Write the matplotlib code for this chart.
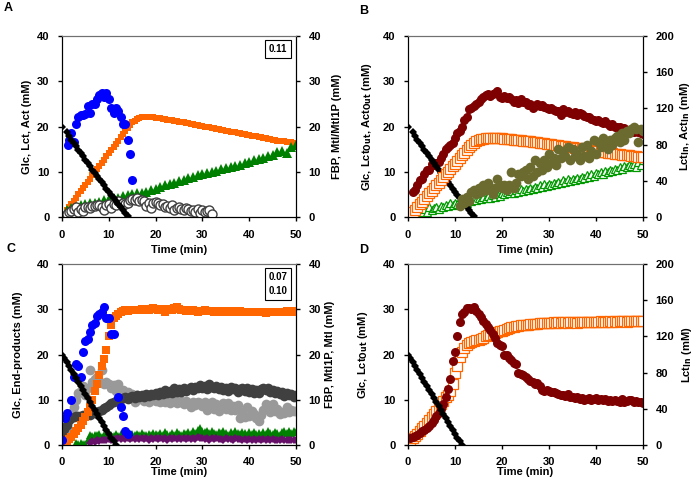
import numpy as np
import matplotlib
matplotlib.use("Agg")
import matplotlib.pyplot as plt

plt.rcParams["font.family"] = ["Liberation Sans", "DejaVu Sans"]
plt.rcParams["font.weight"] = "bold"
plt.rcParams["font.size"] = 8

# ---------------- panel A ----------------
# glucose (mM), t = 0 then every 0.5 min from 1
glc_a_t = [0.0] + list(np.arange(1.0, 14.01, 0.5))
glc_a = [20.0, 18.7, 17.9, 17.1, 16.4, 15.6, 14.9, 14.2, 13.4, 12.7, 11.9, 11.2,
         10.5, 9.8, 9.1, 8.4, 7.7, 7.0, 6.3, 5.6, 4.9, 4.3, 3.6, 2.9, 2.2, 1.5, 0.8, 0.2]
fbp_a_t = [1.2, 1.5, 2.0, 2.5, 3.0, 3.5, 4.0, 4.5, 5.0, 5.5, 6.0, 6.5, 7.0, 7.5, 8.0,
           8.5, 9.0, 9.5, 10.0, 10.5, 11.0, 11.5, 12.0, 12.5, 13.0, 13.5, 14.0, 14.5, 15.0]
fbp_a = [16.0, 17.0, 18.5, 16.5, 20.5, 22.0, 22.5, 22.5, 22.8, 24.5, 23.0, 25.0, 25.0,
         26.0, 27.0, 27.5, 26.5, 27.5, 26.0, 24.0, 23.0, 24.0, 23.5, 22.0, 20.5, 20.5,
         17.0, 14.0, 8.2]
lct_a = [1.5, 2.2, 2.9, 3.6, 4.3, 5.0, 5.7, 6.4, 7.1, 7.8, 8.5, 9.2, 9.9, 10.6, 11.3,
         12.0, 12.7, 13.4, 14.1, 14.8, 15.5, 16.2, 16.9, 17.6, 18.3, 19.0, 19.7, 20.4,
         20.9, 21.3, 21.6, 21.8, 22.0, 22.1, 22.1, 22.1, 22.0, 22.0, 21.9, 21.8, 21.8,
         21.7, 21.6, 21.5, 21.5, 21.4, 21.3, 21.2, 21.1, 21.0, 20.9, 20.8, 20.7, 20.6,
         20.5, 20.4, 20.3, 20.2, 20.1, 20.0, 19.9, 19.8, 19.7, 19.6, 19.5, 19.4, 19.3,
         19.2, 19.1, 19.0, 18.9, 18.8, 18.7, 18.6, 18.5, 18.4, 18.3, 18.2, 18.1, 18.0,
         17.9, 17.8, 17.7, 17.6, 17.5, 17.4, 17.3, 17.2, 17.1, 17.0, 16.9, 16.8, 16.7,
         16.7, 16.6, 16.5, 16.5, 16.4, 16.4]
act_a = [1.5, 2.0, 2.3, 2.6, 2.8, 3.0, 3.2, 3.4, 3.7, 3.9, 4.1, 4.3, 4.6, 4.8, 5.0,
         5.2, 5.4, 5.6, 5.9, 6.2, 6.6, 7.0, 7.2, 7.5, 7.9, 8.2, 8.6, 8.9, 9.3, 9.5,
         9.8, 9.9, 10.2, 10.6, 10.9, 11.0, 11.3, 11.5, 11.9, 12.2, 12.5, 12.8, 13.1,
         13.4, 13.7, 14.3, 14.6, 14.2, 15.5, 16.0]
mtl_a = [0.6, 1.0, 1.3, 1.8, 2.3, 1.2, 1.8, 1.4, 2.2, 2.3, 2.0, 2.5, 2.4, 2.6, 2.6,
         2.3, 1.6, 2.6, 2.8, 2.0, 2.9, 2.6, 3.5, 2.8, 3.0, 2.9, 3.2, 3.8, 4.0, 3.8,
         4.1, 3.6, 3.8, 3.5, 2.5, 3.2, 1.9, 3.0, 3.3, 3.0, 2.6, 2.9, 2.3, 2.5, 2.1,
         2.6, 1.6, 2.1, 2.3, 1.7, 1.5, 2.0, 1.8, 1.4, 1.6, 1.2, 1.7, 0.9, 1.5, 1.1,
         1.4, 1.6, 0.6]

# ---------------- panel B ----------------
glc_b = glc_a
lct_out_b = [5.5, 6.0, 7.0, 8.2, 8.5, 9.5, 10.3, 10.5, 11.8, 11.5, 12.0, 12.2, 13.0,
             14.0, 15.0, 15.5, 16.0, 16.4, 17.5, 18.5, 19.0, 20.0, 21.5, 22.0, 23.8,
             24.0, 24.5, 25.0, 25.5, 26.0, 26.5, 27.0, 27.2, 26.8, 27.3, 27.5, 27.8,
             26.5, 26.2, 26.8, 26.3, 26.5, 26.0, 25.5, 25.8, 25.2, 26.0, 25.4, 25.5,
             24.8, 25.0, 24.0, 24.6, 25.0, 24.5, 24.8, 24.3, 24.2, 23.8, 24.0, 23.7,
             23.4, 23.5, 22.5, 23.8, 23.3, 23.5, 23.0, 22.8, 23.2, 22.6, 23.0, 22.8,
             22.3, 22.0, 22.2, 21.7, 21.5, 21.2, 21.4, 21.0, 20.8, 21.3, 20.5, 20.2,
             20.5, 20.0, 19.8, 20.0, 19.5, 19.6, 19.2, 19.0, 19.3, 18.8, 19.0, 18.7,
             18.5, 18.3]
lct_in_b = [2.5, 5, 8, 11, 14, 17, 20, 23, 26, 29, 32, 35, 38, 41, 44, 47, 50, 53, 56,
            59, 62, 65, 68, 71, 74, 77, 79.5, 82, 84, 85, 86, 86.5, 87, 87.5, 87.5, 87.5,
            87.3, 87, 87, 86.8, 86.5, 86.2, 86, 85.7, 85.5, 85.3, 85, 84.7, 84.5, 84.2,
            84, 83.7, 83.3, 83, 82.6, 82.2, 81.8, 81.4, 81, 80.6, 80.2, 79.8, 79.5,
            79.2, 78.9, 78.6, 78.2, 77.8, 77.4, 77, 76.6, 76.2, 75.8, 75.4, 75, 74.6,
            74.2, 73.8, 73.4, 73, 72.6, 72.2, 71.8, 71.4, 71, 70.6, 70.3, 70, 69.6,
            69.3, 69, 68.6, 68.3, 68, 67.7, 67.4, 67.1, 66.8, 66.5, 66.2]
act_in_b = [12.5, 20, 15, 22.5, 17.5, 27.5, 30, 25, 32.5, 27.5, 35, 30, 37.5, 32.5, 25,
            32.5, 42.5, 35, 32.5, 35, 30, 35, 50, 32.5, 37.5, 47.5, 45, 50, 52.5, 42.5,
            55, 45, 62.5, 50, 60, 52.5, 62.5, 55, 70, 60, 65, 57.5, 75, 65, 72.5, 67.5,
            77.5, 62.5, 75, 67.5, 70, 62.5, 77.5, 67.5, 80, 65, 72.5, 85, 70, 82.5,
            77.5, 87.5, 82.5, 75, 85, 80, 87.5, 90, 82.5, 92.5, 85, 95, 92.5, 97.5, 100,
            97.5, 82.5, 97.5, 95]
act_out_b = [0.3, 1.0, 1.5, 1.0, 1.8, 1.2, 2.2, 1.5, 2.0, 2.2, 1.8, 2.5, 2.2, 2.7, 2.4,
             3.0, 2.7, 3.2, 2.8, 3.4, 3.1, 3.6, 3.2, 3.8, 3.5, 4.0, 3.7, 4.2, 3.9, 4.4,
             4.1, 4.6, 4.3, 4.8, 4.5, 5.0, 4.7, 5.2, 5.0, 5.5, 5.2, 5.7, 5.4, 5.9, 5.6,
             6.1, 5.8, 6.3, 6.0, 6.5, 6.2, 6.7, 6.4, 7.0, 6.7, 7.2, 6.9, 7.4, 7.1, 7.6,
             7.3, 7.8, 7.5, 8.1, 7.8, 8.3, 8.0, 8.5, 8.2, 8.7, 8.4, 8.9, 8.6, 9.2, 8.9,
             9.4, 9.1, 9.7, 9.4, 9.9, 9.6, 10.2, 9.9, 10.4, 10.1, 10.7, 10.4, 11.0,
             10.7, 11.3, 11.0, 11.5, 11.2, 11.8, 11.0, 12.2, 11.5, 12.5]

# ---------------- panel C ----------------
glc_c = [20.0, 19.2, 18.3, 17.4, 16.5, 15.6, 14.8, 13.9, 13.0, 12.1, 11.3, 10.4, 9.5,
         8.6, 7.8, 6.9, 6.0, 5.1, 4.3, 3.4, 2.5, 1.6, 0.8, 0.1]
fbp_c_t = [0.0, 0.6, 1.0, 2.0, 2.5, 3.0, 3.5, 4.0, 4.5, 5.0, 5.5, 6.0, 6.5, 7.0, 7.5,
           8.0, 8.5, 9.0, 9.5, 10.0, 10.5, 11.0, 12.0, 12.5, 13.0, 13.5, 14.0]
fbp_c = [1.0, 6.0, 7.0, 10.0, 15.0, 18.0, 17.5, 15.0, 20.5, 23.0, 23.5, 25.0, 26.5,
         27.0, 28.5, 29.0, 29.5, 30.5, 28.0, 28.0, 24.5, 24.5, 10.5, 8.5, 6.5, 3.0, 2.5]
lct_c = [0.0, 0.3, 0.8, 1.3, 1.8, 2.5, 3.2, 3.8, 4.5, 5.3, 6.2, 7.2, 8.4, 10.0, 12.0,
         13.5, 15.5, 17.5, 19.0, 21.0, 24.0, 26.5, 28.0, 28.5, 29.0, 29.3, 29.6, 29.8,
         29.7, 29.8, 29.9, 29.8, 29.9, 29.8, 30.0, 29.9, 30.0, 29.9, 30.1, 30.2, 30.0,
         29.9, 29.8, 30.0, 29.5, 29.9, 30.0, 29.8, 30.2, 30.4, 30.1, 29.8, 29.9, 29.7,
         29.8, 29.6, 29.8, 29.7, 29.5, 29.7, 29.6, 29.8, 29.7, 29.6, 29.7, 29.5, 29.6,
         29.7, 29.5, 29.6, 29.4, 29.6, 29.5, 29.6, 29.4, 29.5, 29.6, 29.4, 29.5, 29.3,
         29.5, 29.4, 29.3, 29.5, 29.3, 29.4, 29.3, 29.2, 29.4, 29.3, 29.5, 29.3, 29.4,
         29.5, 29.3, 29.4, 29.6, 29.3, 29.5, 29.6, 29.3]
eth_c = [2.0, 3.5, 4.5, 5.5, 6.0, 6.2, 6.3, 6.5, 6.4, 6.6, 6.5, 6.8, 6.7, 7.0, 7.0,
         7.3, 7.5, 7.8, 8.2, 8.5, 8.8, 9.2, 9.5, 9.8, 10.0, 10.2, 10.3, 10.5, 10.2,
         10.5, 10.8, 10.4, 11.0, 10.7, 11.0, 10.6, 11.2, 10.8, 11.3, 11.0, 11.5, 11.0,
         11.8, 11.3, 12.2, 11.5, 12.0, 11.4, 12.5, 11.8, 12.3, 11.7, 12.6, 12.0, 12.4,
         12.8, 12.2, 12.9, 12.5, 13.2, 12.7, 13.0, 12.3, 13.4, 12.8, 12.5, 13.1, 12.4,
         12.9, 12.2, 12.6, 12.0, 12.8, 12.3, 12.6, 11.8, 12.4, 12.7, 12.0, 12.5, 11.8,
         12.3, 11.6, 12.1, 11.5, 12.4, 12.7, 12.2, 12.5, 11.7, 12.2, 11.5, 12.0, 11.3,
         11.7, 10.8, 11.5, 11.0, 11.2, 10.7, 11.0]
frm_c = [3.0, 4.0, 3.5, 6.0, 7.0, 8.5, 10.0, 11.5, 12.0, 13.0, 11.0, 12.5, 16.5, 14.0,
         14.5, 15.0, 14.2, 16.5, 13.5, 14.0, 13.5, 12.5, 13.2, 12.0, 13.5, 11.5, 12.2,
         11.0, 11.8, 10.8, 11.2, 9.5, 11.0, 10.2, 10.5, 9.8, 10.7, 9.6, 10.3, 11.0,
         9.8, 10.5, 9.4, 10.2, 9.5, 10.0, 9.3, 10.4, 9.7, 9.2, 10.2, 9.4, 9.0, 9.8,
         9.3, 8.5, 9.5, 8.8, 9.6, 9.2, 8.7, 9.4, 7.8, 8.2, 9.5, 8.0, 9.0, 7.6, 8.4,
         9.2, 8.0, 9.3, 7.8, 8.6, 7.7, 8.9, 6.0, 7.4, 6.2, 8.3, 6.5, 7.5, 6.8, 6.0,
         5.4, 6.7, 7.8, 9.0, 8.5, 7.2, 9.0, 7.6, 7.9, 6.8, 7.4, 7.0, 8.5, 7.3, 7.8,
         7.6, 7.5]
mtl1p_c = [0.4, 0.3, 0.5, 0.2, 0.3, 1.0, 2.2, 2.0, 2.3, 2.1, 2.4, 1.8, 2.2, 2.0, 2.5,
           2.2, 2.0, 2.4, 1.9, 2.5, 2.1, 2.6, 2.2, 2.0, 2.4, 2.1, 2.5, 2.2, 2.6, 2.3,
           2.1, 2.5, 2.2, 2.7, 2.4, 2.1, 2.6, 2.3, 2.8, 2.4, 2.2, 2.6, 2.3, 2.9, 2.5,
           2.2, 2.7, 2.4, 2.9, 2.5, 3.0, 2.6, 3.3, 3.7, 3.2, 2.8, 3.1, 2.6, 3.2, 2.7,
           2.4, 2.9, 2.6, 3.1, 2.7, 2.3, 2.9, 2.5, 3.0, 2.6, 2.4, 2.9, 2.6, 2.3, 2.8,
           2.5, 2.9, 2.4, 2.7, 2.3, 2.8, 2.5, 3.1, 2.6, 2.4, 2.9, 2.6, 2.3, 2.8, 3.0,
           2.6, 3.2, 2.7, 3.0, 2.8]
mtl_c = [0.5, 0.8, 0.6, 1.0, 0.9, 1.1, 1.2, 1.0, 1.3, 1.2, 1.4, 1.3, 1.5, 1.4, 1.6,
         1.3, 1.5, 1.4, 1.6, 1.3, 1.5, 1.4, 1.6, 1.3, 1.5, 1.2, 1.6, 1.4, 1.5, 1.3,
         1.6, 1.4, 1.5, 1.2, 1.6, 1.4, 1.5, 1.3, 1.6, 1.4, 1.5, 1.3, 1.6, 1.4, 1.5,
         1.3, 1.7, 1.5, 1.6, 1.3, 1.5, 1.2, 1.6, 1.4, 1.5, 1.3, 1.4, 1.2, 1.5, 1.3,
         1.4, 1.2, 1.5, 1.3, 1.4, 1.2, 1.4, 1.1, 1.3, 1.2, 1.4, 1.1, 1.3, 1.2, 1.4,
         1.1, 1.3, 1.2, 1.3, 1.0, 1.2, 1.1, 1.3, 1.0, 1.2, 1.1, 1.2, 1.0, 1.1]

# ---------------- panel D ----------------
glc_d = glc_c
lct_out_d = [1.5, 1.8, 2.0, 2.2, 2.6, 3.0, 3.3, 3.8, 4.3, 4.8, 5.5, 6.3, 7.0, 8.0, 9.0,
             10.5, 12.3, 14.5, 18.5, 20.5, 24.0, 27.2, 29.0, 29.3, 30.3, 30.2, 30.0,
             30.5, 29.6, 29.0, 28.3, 27.3, 26.8, 26.0, 25.4, 24.6, 23.6, 22.5, 22.2,
             21.8, 20.0, 19.8, 19.2, 18.7, 18.2, 17.8, 16.0, 15.8, 15.5, 15.0, 14.5,
             14.2, 13.9, 13.5, 13.8, 13.0, 12.2, 12.0, 12.1, 12.0, 11.8, 11.7, 11.5,
             11.2, 11.0, 11.0, 10.8, 11.2, 10.5, 10.6, 10.4, 10.7, 10.2, 10.3, 10.0,
             10.2, 10.4, 10.0, 10.1, 10.3, 9.9, 10.2, 10.0, 10.2, 9.8, 10.0, 9.7, 9.9,
             9.8, 9.6, 10.1, 9.5, 9.8, 9.9, 10.0, 9.6, 9.7, 9.4, 9.5, 9.3]
lct_in_d = [2.5, 5, 7.5, 10, 12.5, 16, 19, 21.5, 24, 27.5, 31, 34, 37.5, 41.5, 45, 49,
            52.5, 55, 60, 67.5, 80, 87.5, 97.5, 102.5, 107.5, 110, 112.5, 114, 115, 116,
            116.5, 117.5, 118.5, 120, 121, 121.5, 122.5, 124, 125, 126, 126.5, 127.5,
            128.5, 129, 130, 130, 131, 131, 132.5, 133, 133, 133, 133.5, 134, 134, 134,
            134.5, 134.5, 135, 134.5, 135, 135, 135.5, 135, 135.5, 135, 135.5, 135.5,
            135, 135.5, 136, 135.5, 135, 135.5, 136, 135.5, 136, 135.5, 136, 136, 135.5,
            136, 136.5, 136, 135.5, 136, 136.5, 136, 136.5, 136, 136.5, 137, 136.5, 136,
            136.5, 137, 136.5, 137, 137.5, 137, 136.5]


def times(start, step, values):
    return start + step * np.arange(len(values))


GREEN = "#008000"
ORANGE = "#FF6600"
DKRED = "#7F0000"
BLUE = "#0000FF"


def pts(ax, x, y, **kw):
    ax.plot(x, y, linestyle="none", **kw)


def style(ax, ax2, ylab, ylab2, rmax, rstep, lx, rx, xly):
    # lx / rx / xly: label offsets in pixels from the axes edges
    ax.set_xlim(0, 50)
    ax.set_ylim(0, 40)
    ax.set_xticks(range(0, 51, 10))
    ax.set_yticks(range(0, 41, 10))
    ax2.set_ylim(0, rmax)
    ax2.set_yticks(np.arange(0, rmax + 1, rstep))
    ax.set_xlabel("Time (min)", fontsize=8, fontweight="bold")
    ax.set_ylabel(ylab, fontsize=8, fontweight="bold")
    ax2.set_ylabel(ylab2, fontsize=8, fontweight="bold")
    w, h = 234.0, 181.0
    ax.yaxis.set_label_coords(-lx / w, 0.5)
    ax2.yaxis.set_label_coords(1 + rx / w, 0.5)
    ax.xaxis.set_label_coords(0.5, -xly / h)
    ax.yaxis.label.set_va("center")
    ax2.yaxis.label.set_va("center")
    ax.xaxis.label.set_va("center")
    for a in (ax, ax2):
        a.tick_params(direction="out", length=3, width=1, labelsize=8, pad=6)
        a.spines["top"].set_color("#707070")
    ax.patch.set_visible(False)


fig = plt.figure(figsize=(6.97, 4.91), dpi=100)
axA = fig.add_axes([0.089, 0.558, 0.3357, 0.3686])
axB = fig.add_axes([0.5854, 0.558, 0.3372, 0.3686])
axC = fig.add_axes([0.089, 0.0937, 0.3357, 0.3686])
axD = fig.add_axes([0.5854, 0.0937, 0.3372, 0.3686])

# A
axA2 = axA.twinx()
axA.set_zorder(axA2.get_zorder() + 1)
pts(axA, times(1.0, 0.5, lct_a), lct_a, marker="s", ms=5, color=ORANGE, mew=0)
pts(axA, times(1.0, 1.0, act_a), act_a, marker="^", ms=6.5, color=GREEN, mew=0)
pts(axA, times(1.0, 0.5, mtl_a), mtl_a, marker="o", ms=6.5, mfc="white", mec="#404040", mew=1)
pts(axA, fbp_a_t, fbp_a, marker="o", ms=6.5, color=BLUE, mew=0)
pts(axA, glc_a_t, glc_a, marker="D", ms=3.8, color="black", mew=0)
style(axA, axA2, "Glc, Lct, Act (mM)", "FBP, Mtl/Mtl1P (mM)", 40, 10, 35, 41, 33)
axA.text(0.963, 0.955, "0.11", transform=axA.transAxes, ha="right", va="top",
         fontsize=7, fontweight="bold",
         bbox=dict(boxstyle="square,pad=0.4", fc="white", ec="black", lw=0.8))

# B
axB2 = axB.twinx()
axB.set_zorder(axB2.get_zorder() + 1)
pts(axB, times(1.5, 0.5, act_out_b), act_out_b, marker="^", ms=6, mfc="white", mec="#009900", mew=0.9)
pts(axB, times(1.0, 0.5, lct_out_b), lct_out_b, marker="o", ms=6.5, color=DKRED, mew=0)
pts(axB, glc_a_t, glc_b, marker="D", ms=3.8, color="black", mew=0)
# right-axis data drawn on the front axis in right-axis units
b_scale = 40 / 200
pts(axB, times(0.5, 0.5, lct_in_b), np.array(lct_in_b) * b_scale, marker="s", ms=6.5,
    mfc="white", mec=ORANGE, mew=0.9)
pts(axB, times(11.0, 0.5, act_in_b), np.array(act_in_b) * b_scale, marker="o", ms=7,
    color="#6B6B30", mew=0)
style(axB, axB2, "Glc, Lct$_{\\mathbf{Out}}$, Act$_{\\mathbf{Out}}$ (mM)",
      "Lct$_{\\mathbf{In}}$, Act$_{\\mathbf{In}}$ (mM)", 200, 40, 41, 42, 33)

# C
axC2 = axC.twinx()
axC.set_zorder(axC2.get_zorder() + 1)
pts(axC, times(0.0, 0.5, frm_c), frm_c, marker="o", ms=7, color="#999999", mew=0)
pts(axC, times(0.0, 0.5, eth_c), eth_c, marker="o", ms=7, color="#404040", mew=0)
pts(axC, times(0.0, 0.5, lct_c), lct_c, marker="s", ms=5.5, color=ORANGE, mew=0)
pts(axC, times(3.0, 0.5, mtl1p_c), mtl1p_c, marker="^", ms=6, color=GREEN, mew=0)
pts(axC, times(6.0, 0.5, mtl_c), mtl_c, marker="D", ms=4.5, color="#66106A", mew=0)
pts(axC, fbp_c_t, fbp_c, marker="o", ms=6.5, color=BLUE, mew=0)
pts(axC, times(0.0, 0.5, glc_c), glc_c, marker="D", ms=3.8, color="black", mew=0)
style(axC, axC2, "Glc, End-products (mM)", "FBP, Mtl1P, Mtl (mM)", 40, 10, 44, 34, 27)
axC.text(0.963, 0.955, "0.07\n0.10", transform=axC.transAxes, ha="right", va="top",
         fontsize=7, fontweight="bold", linespacing=1.5,
         bbox=dict(boxstyle="square,pad=0.4", fc="white", ec="black", lw=0.8))

# D
axD2 = axD.twinx()
axD.set_zorder(axD2.get_zorder() + 1)
pts(axD, times(0.0, 0.5, lct_in_d), np.array(lct_in_d) * b_scale, marker="s", ms=6.5,
    mfc="white", mec=ORANGE, mew=0.9)
pts(axD, times(0.5, 0.5, lct_out_d), lct_out_d, marker="o", ms=6.5, color=DKRED, mew=0)
pts(axD, times(0.0, 0.5, glc_d), glc_d, marker="D", ms=3.8, color="black", mew=0)
style(axD, axD2, "Glc, Lct$_{\\mathbf{Out}}$ (mM)", "Lct$_{\\mathbf{In}}$ (mM)", 200, 40, 45, 44, 27)

for lab, x, y in [("A", 0.006, 0.995), ("B", 0.515, 0.99), ("C", 0.01, 0.505), ("D", 0.515, 0.503)]:
    fig.text(x, y, lab, fontsize=9, fontweight="bold", va="top")

fig.savefig("out.png", dpi=100)
